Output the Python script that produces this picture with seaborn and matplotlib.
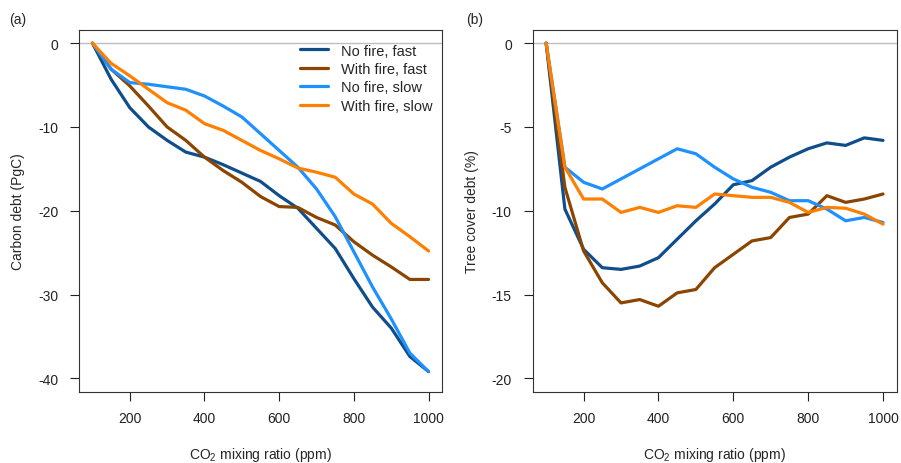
import matplotlib
matplotlib.use("Agg")
import pandas as pd
import matplotlib.pyplot as plt
import seaborn as sns

# CO2 levels (ppm), one point every 50 ppm
ppm = [100, 150, 200, 250, 300, 350, 400, 450, 500, 550,
       600, 650, 700, 750, 800, 850, 900, 950, 1000]

scenarios = ["No fire, fast", "With fire, fast", "No fire, slow", "With fire, slow"]
colours = ["#104E8B", "#8B4500", "#1E90FF", "#FF7F00"]

# (a) carbon debt, PgC
carbon_nofire_fast = [0, -4.3, -7.7, -10.0, -11.6, -13.0, -13.6, -14.5, -15.5, -16.5,
                      -18.2, -19.7, -22.1, -24.5, -28.1, -31.5, -34.0, -37.4, -39.2]
carbon_fire_fast = [0, -3.1, -5.1, -7.5, -10.0, -11.6, -13.6, -15.2, -16.6, -18.3,
                    -19.5, -19.6, -20.8, -21.7, -23.7, -25.3, -26.7, -28.2, -28.2]
carbon_nofire_slow = [0, -3.1, -4.7, -4.9, -5.2, -5.5, -6.3, -7.5, -8.8, -10.8,
                      -12.8, -14.8, -17.4, -20.7, -24.9, -29.1, -32.9, -37.0, -39.2]
carbon_fire_slow = [0, -2.4, -3.9, -5.5, -7.1, -8.0, -9.6, -10.4, -11.6, -12.8,
                    -13.8, -14.9, -15.4, -16.0, -18.0, -19.2, -21.5, -23.1, -24.8]

# (b) tree cover debt, %
tree_nofire_fast = [0, -9.9, -12.3, -13.4, -13.5, -13.3, -12.8, -11.7, -10.6, -9.6,
                    -8.45, -8.2, -7.4, -6.8, -6.3, -5.95, -6.1, -5.65, -5.8]
tree_fire_fast = [0, -8.6, -12.4, -14.3, -15.5, -15.3, -15.7, -14.9, -14.7, -13.4,
                  -12.6, -11.8, -11.6, -10.4, -10.2, -9.1, -9.5, -9.3, -9.0]
tree_nofire_slow = [0, -7.4, -8.3, -8.7, -8.1, -7.5, -6.9, -6.3, -6.6, -7.4,
                    -8.1, -8.6, -8.9, -9.4, -9.4, -9.9, -10.6, -10.4, -10.7]
tree_fire_slow = [0, -7.4, -9.3, -9.3, -10.1, -9.8, -10.1, -9.7, -9.8, -9.0,
                  -9.1, -9.2, -9.2, -9.5, -10.1, -9.8, -9.85, -10.2, -10.8]


def long_table(series):
    frames = []
    for name, vals in zip(scenarios, series):
        frames.append(pd.DataFrame({"ppm": ppm, "debt": vals, "run": name}))
    return pd.concat(frames, ignore_index=True)


def draw_panel(ax, df, ylim, yticks, ylabel):
    sns.lineplot(data=df, x="ppm", y="debt", hue="run", hue_order=scenarios,
                 palette=dict(zip(scenarios, colours)), estimator=None, sort=False,
                 linewidth=2.3, legend=False, ax=ax)
    ax.axhline(0, color="#BEBEBE", lw=1, zorder=0)
    ax.set_xlim(64, 1036)
    ax.set_ylim(*ylim)
    ax.set_xticks([200, 400, 600, 800, 1000])
    ax.set_yticks(yticks)
    ax.tick_params(axis="both", direction="out", length=6.5, width=0.8,
                   labelsize=10, colors="#222222")
    ax.tick_params(axis="x", pad=7.5)
    ax.tick_params(axis="y", pad=8.5)
    for sp in ax.spines.values():
        sp.set_color("#333333")
        sp.set_linewidth(0.8)
    ax.set_xlabel("CO$_2$ mixing ratio (ppm)", fontsize=10)
    ax.set_ylabel(ylabel, fontsize=10)
    ax.xaxis.set_label_coords(0.5, -0.172)
    ax.xaxis.label.set_va("center")
    ax.yaxis.set_label_coords(-0.168, 0.5)
    ax.yaxis.label.set_va("center")


def main():
    sns.set_style("ticks")
    plt.rcParams["font.family"] = ["Liberation Sans", "DejaVu Sans"]
    plt.rcParams["mathtext.default"] = "regular"
    plt.rcParams["axes.unicode_minus"] = False

    fig = plt.figure(figsize=(9.01, 4.64), dpi=100)
    ax1 = fig.add_axes([79 / 901, 71.3 / 464, 363 / 901, 361.9 / 464])
    ax2 = fig.add_axes([532.7 / 901, 71.3 / 464, 363.8 / 901, 361.9 / 464])

    carbon = long_table([carbon_nofire_fast, carbon_fire_fast,
                         carbon_nofire_slow, carbon_fire_slow])
    tree = long_table([tree_nofire_fast, tree_fire_fast,
                       tree_nofire_slow, tree_fire_slow])

    draw_panel(ax1, carbon, (-41.6, 1.6), [0, -10, -20, -30, -40], "Carbon debt (PgC)")
    draw_panel(ax2, tree, (-20.8, 0.8), [0, -5, -10, -15, -20], "Tree cover debt (%)")

    ax1.legend(handles=ax1.lines[:4], labels=scenarios, loc="upper left",
               bbox_to_anchor=(0.609, 0.962), frameon=False, fontsize=10.5,
               handlelength=1.9, handletextpad=0.9, labelspacing=0.3,
               borderpad=0, borderaxespad=0)

    fig.text(18 / 901, 1 - 20 / 464, "(a)", fontsize=10, ha="center", va="center")
    fig.text(475 / 901, 1 - 20 / 464, "(b)", fontsize=10, ha="center", va="center")

    fig.savefig("out.png", dpi=100)


if __name__ == '__main__': main()
